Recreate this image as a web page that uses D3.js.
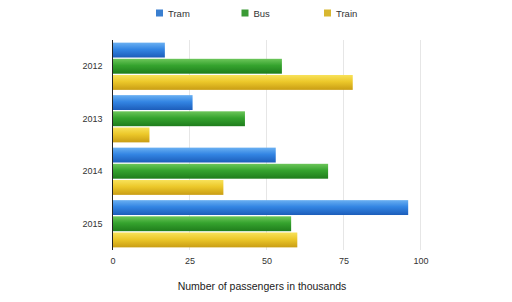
<!DOCTYPE html>
<html><head><meta charset="utf-8">
<script src="https://cdn.jsdelivr.net/npm/d3@7"></script>
<style>body{margin:0;background:#fff}svg{display:block;font-family:"Liberation Sans",Arial,sans-serif}</style>
</head><body>
<svg id="c" width="512" height="302"></svg>
<script>
const years = ["2012","2013","2014","2015"];
const seriesNames = ["Tram","Bus","Train"];
const tram = [17,26,53,96];
const bus = [55,43,70,58];
const train = [78,12,36,60];
const xTicks = [0,25,50,75,100];
const axisTitle = "Number of passengers in thousands";

const values = [tram,bus,train];
const colors = [
  {top:"#6ab0f2",mid:"#3385e3",bot:"#1c5dba",legend:"#3a7fd0"},
  {top:"#6cc65a",mid:"#35a32e",bot:"#1f7d1c",legend:"#3a9a35"},
  {top:"#f8e25a",mid:"#ecc82a",bot:"#c99d14",legend:"#d8b730"}
];

const svg = d3.select("#c");
const defs = svg.append("defs");
colors.forEach((c,i)=>{
  const g = defs.append("linearGradient").attr("id","g"+i).attr("x1",0).attr("y1",0).attr("x2",0).attr("y2",1);
  g.append("stop").attr("offset","0%").attr("stop-color",c.top);
  g.append("stop").attr("offset","45%").attr("stop-color",c.mid);
  g.append("stop").attr("offset","100%").attr("stop-color",c.bot);
});

const x = d3.scaleLinear().domain([0,100]).range([112.5,420.5]);
const y = d3.scaleBand().domain(years).range([40,250]).paddingInner(0.1).paddingOuter(0.05);
const yi = d3.scaleBand().domain(seriesNames).range([0,y.bandwidth()]).paddingInner(0.08);

// grid
svg.append("g").selectAll("line").data(xTicks.slice(1)).join("line")
  .attr("x1",d=>x(d)).attr("x2",d=>x(d)).attr("y1",40).attr("y2",250)
  .attr("stroke","#e6e6e6").attr("stroke-width",1);

// bars
const gy = svg.append("g").selectAll("g").data(years).join("g")
  .attr("transform",d=>`translate(0,${y(d)})`);
gy.each(function(yr,yiIdx){
  const sel = d3.select(this);
  seriesNames.forEach((s,si)=>{
    sel.append("rect").attr("x",x(0)).attr("y",yi(s))
      .attr("width",x(values[si][yiIdx])-x(0)).attr("height",yi.bandwidth())
      .attr("fill",`url(#g${si})`);
  });
});

// axes
const xAxis = svg.append("g").attr("transform","translate(0,250)")
  .call(d3.axisBottom(x).tickValues(xTicks).tickSize(0).tickPadding(8));
xAxis.select(".domain").remove();
xAxis.selectAll("text").attr("font-size",9).attr("fill","#333").attr("font-family","Liberation Sans, Arial, sans-serif");

const yAxis = svg.append("g").attr("transform","translate(112.5,0)")
  .call(d3.axisLeft(y).tickSize(0).tickPadding(10));
yAxis.select(".domain").attr("stroke","#222").attr("d","M0,40V250");
yAxis.selectAll("text").attr("font-size",9).attr("fill","#333").attr("font-family","Liberation Sans, Arial, sans-serif");

svg.append("text").attr("x",262).attr("y",290).attr("text-anchor","middle")
  .attr("font-size",10.5).attr("fill","#222").text(axisTitle);

// legend
const legX = [156,241.5,324];
const lg = svg.append("g").selectAll("g").data(seriesNames).join("g")
  .attr("transform",(d,i)=>`translate(${legX[i]},9.5)`);
lg.append("rect").attr("width",7).attr("height",7).attr("fill",(d,i)=>colors[i].legend);
lg.append("text").attr("x",12).attr("y",7).attr("font-size",9.5).attr("fill","#333").text(d=>d);
</script>
</body></html>
